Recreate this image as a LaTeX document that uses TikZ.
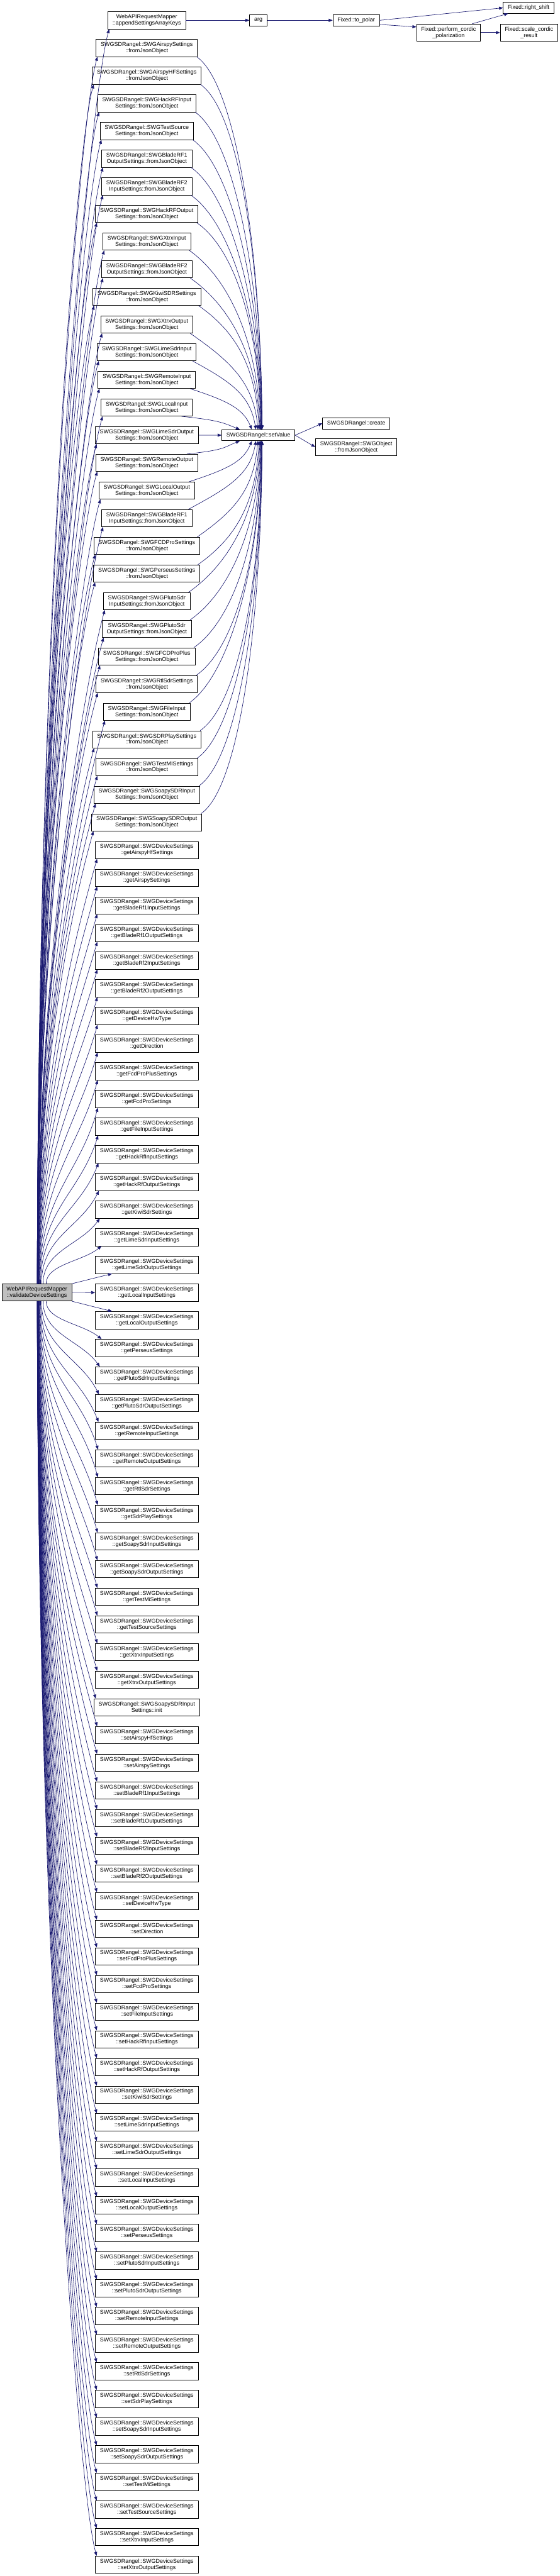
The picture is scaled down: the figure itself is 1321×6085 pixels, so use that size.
\documentclass[tikz,border=0pt]{standalone}
\usepackage{fontspec}
\setmainfont{Liberation Sans}
\usetikzlibrary{arrows.meta,calc}
\definecolor{edgeblue}{HTML}{191970}
\definecolor{rootgray}{HTML}{BFBFBF}
\tikzset{
 fnode/.style={draw=black,line width=.75pt,fill=white,align=center,inner xsep=8.2pt,inner ysep=2pt,minimum height=30.5pt,font=\fontsize{10pt}{11.1pt}\selectfont},
 fnodeone/.style={fnode,minimum height=19.5pt},
 rootnode/.style={fnode,fill=rootgray},
 call/.style={draw=edgeblue,line width=.75pt,-{Triangle[length=7pt,width=5.5pt]}}
}
\def\devlist{AirspyHfSettings,AirspySettings,BladeRf1InputSettings,BladeRf1OutputSettings,BladeRf2InputSettings,BladeRf2OutputSettings,DeviceHwType,Direction,FcdProPlusSettings,FcdProSettings,FileInputSettings,HackRfInputSettings,HackRfOutputSettings,KiwiSdrSettings,LimeSdrInputSettings,LimeSdrOutputSettings,LocalInputSettings,LocalOutputSettings,PerseusSettings,PlutoSdrInputSettings,PlutoSdrOutputSettings,RemoteInputSettings,RemoteOutputSettings,RtlSdrSettings,SdrPlaySettings,SoapySdrInputSettings,SoapySdrOutputSettings,TestMiSettings,TestSourceSettings,XtrxInputSettings,XtrxOutputSettings}
\begin{document}
\begin{tikzpicture}[x=.75pt,y=-.75pt]
\path[use as bounding box] (0,0) rectangle (1321,6085);
% caller
\node[rootnode] (root) at (87,3053) {WebAPIRequestMapper\\::validateDeviceSettings};
% callees, one column
\node[fnode] (m1) at (346.5,48) {WebAPIRequestMapper\\::appendSettingsArrayKeys};
\foreach \dev/\rest [count=\j from 2] in {AirspySettings/{},AirspyHFSettings/{},HackRFInput/Settings,TestSource/Settings,BladeRF1/OutputSettings,BladeRF2/InputSettings,HackRFOutput/Settings,XtrxInput/Settings,BladeRF2/OutputSettings,KiwiSDRSettings/{},XtrxOutput/Settings,LimeSdrInput/Settings,RemoteInput/Settings,LocalInput/Settings,LimeSdrOutput/Settings,RemoteOutput/Settings,LocalOutput/Settings,BladeRF1/InputSettings,FCDProSettings/{},PerseusSettings/{},PlutoSdr/InputSettings,PlutoSdr/OutputSettings,FCDProPlus/Settings,RtlSdrSettings/{},FileInput/Settings,SDRPlaySettings/{},TestMISettings/{},SoapySDRInput/Settings,SoapySDROutput/Settings}
 \node[fnode] (m\j) at (346.5,{48+(\j-1)*65.33}) {SWGSDRangel::SWG\dev\\\rest::fromJsonObject};
\foreach \s [count=\j from 31] in \devlist
 \node[fnode] (m\j) at (346.5,{48+(\j-1)*65.33}) {SWGSDRangel::SWGDeviceSettings\\::get\s};
\node[fnode] (m62) at (346.5,{48+61*65.33}) {SWGSDRangel::SWGSoapySDRInput\\Settings::init};
\foreach \s [count=\j from 63] in \devlist
 \node[fnode] (m\j) at (346.5,{48+(\j-1)*65.33}) {SWGSDRangel::SWGDeviceSettings\\::set\s};
% third and later ranks
\node[fnodeone] (arg) at (610,48) {arg};
\node[fnodeone] (topolar) at (841,48) {Fixed::to\_polar};
\node[fnodeone] (rshift) at (1248,18.5) {Fixed::right\_shift};
\node[fnode] (cordic) at (1059,77) {Fixed::perform\_cordic\\\_polarization};
\node[fnode] (scale) at (1249,77) {Fixed::scale\_cordic\\\_result};
\node[fnodeone] (sv) at (610,1028) {SWGSDRangel::setValue};
\node[fnodeone] (create) at (841,1000) {SWGSDRangel::create};
\node[fnode] (obj) at (841,1056) {SWGSDRangel::SWGObject\\::fromJsonObject};
% calls from the caller
\foreach \i in {1,...,45}{
 \pgfmathsetmacro\k{47-\i}
 \pgfmathsetmacro\D{65.33*\k-40}
 \pgfmathsetmacro\cA{.5*\D}
 \pgfmathsetmacro\cB{min(.4*\D,160)}
 \draw[call] ($(root.north)+({44/\k},0)$) .. controls +(0,-\cA) and +(-45,\cB) .. ($(m\i.south west)+({3+24/\k},0)$);
}
\foreach \i in {49,...,93}{
 \pgfmathsetmacro\k{\i-47}
 \pgfmathsetmacro\D{65.33*\k-40}
 \pgfmathsetmacro\cA{.5*\D}
 \pgfmathsetmacro\cB{min(.4*\D,160)}
 \draw[call] ($(root.south)+({44/\k},0)$) .. controls +(0,\cA) and +(-45,-\cB) .. ($(m\i.north west)+({3+24/\k},0)$);
}
\draw[call] (root.north east) -- ($(m46.south west)+(40,0)$);
\draw[call] (root.east) -- (m47.west);
\draw[call] (root.south east) -- ($(m48.north west)+(40,0)$);
% calls into setValue
\foreach \j in {2,...,15}{
 \pgfmathsetmacro\k{16-\j}
 \pgfmathsetmacro\D{65.33*\k-33}
 \pgfmathsetmacro\cc{min(63,.3*\D)}
 \draw[call] ($(m\j.south east)+({-26/\k},0)$) .. controls +(90,\cc) and +({-40/\k},{-.5*\D}) .. ($(sv.north west)+({100-57/\k},0)$);
}
\foreach \j in {17,...,30}{
 \pgfmathsetmacro\k{\j-16}
 \pgfmathsetmacro\D{65.33*\k-33}
 \pgfmathsetmacro\cc{min(63,.3*\D)}
 \draw[call] ($(m\j.north east)+({-26/\k},0)$) .. controls +(90,-\cc) and +({-40/\k},{.5*\D}) .. ($(sv.south west)+({100-57/\k},0)$);
}
\draw[call] (m16.east) -- (sv.west);
\draw[call] (sv.east) -- (create.west);
\draw[call] (sv.east) -- (obj.west);
% the arg chain
\draw[call] (m1.east) -- (arg.west);
\draw[call] (arg.east) -- (topolar.west);
\draw[call] (topolar.east) -- (rshift.west);
\draw[call] (topolar.-10) -- (cordic.170);
\draw[call] ($(cordic.north east)+(-20,0)$) -- ($(rshift.south west)+(12,0)$);
\draw[call] (cordic.east) -- (scale.west);
\end{tikzpicture}
\end{document}
